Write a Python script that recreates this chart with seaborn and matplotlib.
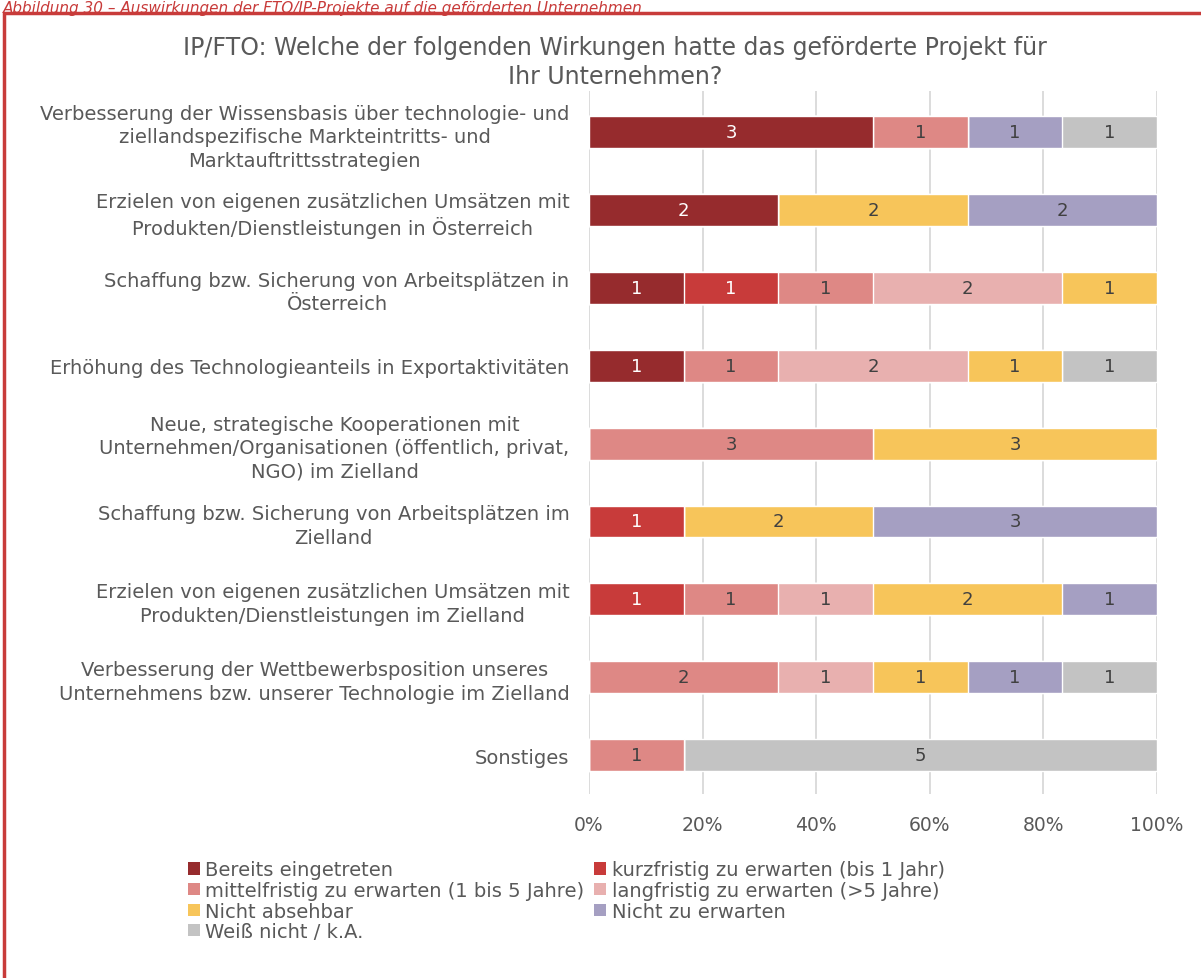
import numpy as np
import pandas as pd
import matplotlib
matplotlib.use("Agg")
import matplotlib.pyplot as plt
import seaborn as sns
from matplotlib.patches import Patch, Rectangle

# Kategorien (Wirkungen)
categories = [
    "Verbesserung der Wissensbasis über technologie- und\nziellandspezifische Markteintritts- und\nMarktauftrittsstrategien",
    "Erzielen von eigenen zusätzlichen Umsätzen mit\nProdukten/Dienstleistungen in Österreich",
    "Schaffung bzw. Sicherung von Arbeitsplätzen in\nÖsterreich",
    "Erhöhung des Technologieanteils in Exportaktivitäten",
    "Neue, strategische Kooperationen mit\nUnternehmen/Organisationen (öffentlich, privat,\nNGO) im Zielland",
    "Schaffung bzw. Sicherung von Arbeitsplätzen im\nZielland",
    "Erzielen von eigenen zusätzlichen Umsätzen mit\nProdukten/Dienstleistungen im Zielland",
    "Verbesserung der Wettbewerbsposition unseres\nUnternehmens bzw. unserer Technologie im Zielland",
    "Sonstiges",
]

series_names = [
    "Bereits eingetreten",
    "kurzfristig zu erwarten (bis 1 Jahr)",
    "mittelfristig zu erwarten (1 bis 5 Jahre)",
    "langfristig zu erwarten (>5 Jahre)",
    "Nicht absehbar",
    "Nicht zu erwarten",
    "Weiß nicht / k.A.",
]

# Anzahl Nennungen je Antwort
bereits    = [3, 2, 1, 1, 0, 0, 0, 0, 0]
kurz       = [0, 0, 1, 0, 0, 1, 1, 0, 0]
mittel     = [1, 0, 1, 1, 3, 0, 1, 2, 1]
lang       = [0, 0, 2, 2, 0, 0, 1, 1, 0]
absehbar   = [0, 2, 1, 1, 3, 2, 2, 1, 0]
nicht_erw  = [1, 2, 0, 0, 0, 3, 1, 1, 0]
weiss_nich = [1, 0, 0, 1, 0, 0, 0, 1, 5]

colors = ["#962B2D", "#C83B3A", "#DE8885", "#E8B0AF", "#F7C55A", "#A59FC2", "#C3C3C3"]

counts = pd.DataFrame(
    np.array([bereits, kurz, mittel, lang, absehbar, nicht_erw, weiss_nich]).T,
    index=categories, columns=series_names,
)
shares = counts.div(counts.sum(axis=1), axis=0) * 100
cum = shares.cumsum(axis=1)

sns.set_style("white")
plt.rcParams["font.family"] = ["DejaVu Sans"]
text_color = "#595959"

fig = plt.figure(figsize=(12.01, 9.79), dpi=100)
ax = fig.add_axes([0.4904, 0.188, 0.473, 0.718])

# gestapelte Balken: von hinten (gesamt) nach vorne zeichnen
for i in range(len(series_names) - 1, -1, -1):
    df = pd.DataFrame({"cat": categories, "val": cum.iloc[:, i].values})
    sns.barplot(data=df, x="val", y="cat", orient="h", color=colors[i],
                width=0.41, saturation=1, ax=ax, zorder=3)

# Werte-Beschriftung
for j, cat in enumerate(categories):
    for i, name in enumerate(series_names):
        n = counts.loc[cat, name]
        if n == 0:
            continue
        center = cum.loc[cat, name] - shares.loc[cat, name] / 2
        ax.text(center, j, str(n), ha="center", va="center", fontsize=13,
                color="white" if i < 2 else "#404040", zorder=5)

ax.set_xlim(0, 100)
ax.set_ylim(8.5, -0.53)
ax.set_xticks(np.arange(0, 101, 20))
ax.set_xticklabels([f"{v}%" for v in range(0, 101, 20)])
ax.xaxis.grid(True, color="#D9D9D9", linewidth=1.3, zorder=0)
ax.set_axisbelow(True)
ax.set_xlabel("")
ax.set_ylabel("")
for s in ax.spines.values():
    s.set_visible(False)
ax.tick_params(axis="x", length=0, labelsize=13.5, colors=text_color, pad=15)
ax.tick_params(axis="y", length=0, labelsize=14, colors=text_color, pad=14)
for lbl in ax.get_yticklabels():
    lbl.set_multialignment("center")
    lbl.set_linespacing(1.3)

fig.text(0.512, 0.936, "IP/FTO: Welche der folgenden Wirkungen hatte das geförderte Projekt für\nIhr Unternehmen?",
         ha="center", va="center", fontsize=17, color=text_color, linespacing=1.25)

# Legende zeilenweise wie im Original (2 Spalten)
order = [0, 2, 4, 6, 1, 3, 5]
handles = [Patch(facecolor=colors[k], edgecolor="none") for k in order]
labels = [series_names[k] for k in order]
fig.legend(handles, labels, ncol=2, loc="upper left",
           bbox_to_anchor=(0.150, 0.128), frameon=False, fontsize=14,
           labelcolor=text_color, handlelength=0.6, handleheight=0.6,
           handletextpad=0.3, labelspacing=0.08, columnspacing=0.5,
           borderaxespad=0)

# Rahmen und Bildunterschrift
fig.patches.append(Rectangle((0.0035, -0.05), 1.2, 1.036, transform=fig.transFigure,
                             fill=False, edgecolor="#C83B3A", linewidth=2.5))
fig.text(0.002, 0.999, "Abbildung 30 – Auswirkungen der FTO/IP-Projekte auf die geförderten Unternehmen",
         ha="left", va="top", fontsize=11, style="italic", color="#C83B3A")

fig.savefig("out.png", dpi=100)
